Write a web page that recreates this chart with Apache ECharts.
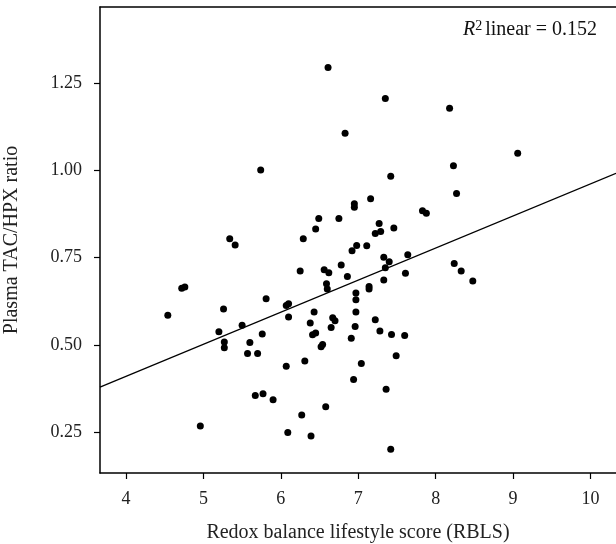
<!DOCTYPE html>
<html>
<head>
<meta charset="utf-8">
<script src="https://cdn.jsdelivr.net/npm/echarts@6/dist/echarts.min.js"></script>
<style>
  html, body { margin: 0; padding: 0; background: #fff; }
  #chart { width: 616px; height: 544px; }
</style>
</head>
<body>
<div id="chart"></div>
<script>
// RBLS score (x) and plasma TAC/HPX ratio (y)
const rbls = [
  6.61, 7.35, 8.18, 6.83, 9.06, 5.74, 8.23, 7.42,
  8.27, 7.16, 6.95, 6.95, 7.83, 7.88, 6.49, 6.75, 7.27, 6.45, 7.46, 7.29, 7.22,
  5.34, 6.29, 5.41, 6.98, 7.11, 6.92, 7.64, 7.33, 7.40, 8.24, 7.35, 6.78, 6.56,
  6.62, 6.25, 8.33, 6.86, 7.61, 7.33, 8.48, 6.59, 6.60, 7.14, 7.14, 4.72, 4.76,
  6.97, 6.97, 5.81, 5.26, 6.07, 6.10, 6.43, 6.97, 4.54, 6.10, 6.67, 6.70, 7.22,
  6.38, 5.50, 6.96, 6.65, 7.28, 5.20, 5.76, 6.41, 6.45, 7.43, 7.60, 6.91,
  5.27, 5.27, 5.60, 5.57, 5.70, 6.52, 6.54, 7.49, 6.31, 7.04, 6.07, 6.94, 7.36,
  5.67, 5.77, 5.90, 6.58, 6.27, 4.96, 6.09, 6.39, 7.42
];
const ratio = [
  1.295, 1.206, 1.178, 1.106, 1.049, 1.001, 1.013, 0.983,
  0.934, 0.919, 0.904, 0.894, 0.884, 0.877, 0.862, 0.862, 0.848, 0.832, 0.835, 0.825, 0.819,
  0.804, 0.804, 0.786, 0.785, 0.784, 0.770, 0.758, 0.751, 0.738, 0.733, 0.721, 0.729, 0.715,
  0.707, 0.712, 0.712, 0.696, 0.705, 0.686, 0.683, 0.675, 0.660, 0.667, 0.660, 0.662, 0.666,
  0.649, 0.629, 0.632, 0.603, 0.613, 0.618, 0.594, 0.594, 0.585, 0.580, 0.578, 0.569, 0.572,
  0.563, 0.556, 0.553, 0.550, 0.540, 0.538, 0.531, 0.529, 0.534, 0.530, 0.527, 0.519,
  0.508, 0.492, 0.507, 0.475, 0.475, 0.495, 0.501, 0.469, 0.454, 0.447, 0.439, 0.401, 0.373,
  0.355, 0.360, 0.343, 0.323, 0.299, 0.268, 0.249, 0.239, 0.201
];
const xTicks = [4, 5, 6, 7, 8, 9, 10];
const yTicks = [0.25, 0.50, 0.75, 1.00, 1.25];
// fitted line as drawn
const fitIntercept = 0.0423;
const fitSlope = 0.0919;
const xRange = [3.664, 10.33];
const yRange = [0.133, 1.468];

const points = rbls.map((x, i) => [x, ratio[i]]);
const fitLine = xRange.map(x => [x, fitIntercept + fitSlope * x]);

const font = '"Liberation Serif", "DejaVu Serif", serif';
const chart = echarts.init(document.getElementById('chart'), null, { renderer: 'canvas' });

chart.setOption({
  animation: false,
  backgroundColor: '#fff',
  textStyle: { fontFamily: font, color: '#222' },
  grid: { left: 100, right: 0, top: 7, bottom: 71, containLabel: false, outerBoundsMode: 'none' },
  xAxis: [{
    type: 'value',
    min: xRange[0],
    max: xRange[1],
    splitLine: { show: false },
    axisLine: { onZero: false, lineStyle: { color: '#000', width: 1.5 } },
    axisTick: {
      show: true, length: 6, lineStyle: { color: '#000', width: 1.2 },
      customValues: xTicks
    },
    axisLabel: {
      margin: 17, fontSize: 18, color: '#222', fontFamily: font,
      customValues: xTicks
    },
    name: 'Redox balance lifestyle score (RBLS)',
    nameLocation: 'middle',
    nameGap: 50,
    nameTextStyle: { fontSize: 20, color: '#222', fontFamily: font }
  }, {
    type: 'value',
    position: 'top',
    min: xRange[0],
    max: xRange[1],
    splitLine: { show: false },
    axisLine: { onZero: false, lineStyle: { color: '#000', width: 1.5 } },
    axisTick: { show: false },
    axisLabel: { show: false }
  }],
  yAxis: {
    type: 'value',
    min: yRange[0],
    max: yRange[1],
    splitLine: { show: false },
    axisLine: { onZero: false, lineStyle: { color: '#000', width: 1.5 } },
    axisTick: {
      show: true, length: 6, lineStyle: { color: '#000', width: 1.2 },
      customValues: yTicks
    },
    axisLabel: {
      margin: 18, fontSize: 18, color: '#222', fontFamily: font,
      customValues: yTicks,
      formatter: v => v.toFixed(2)
    },
    name: 'Plasma TAC/HPX ratio',
    nameLocation: 'middle',
    nameGap: 78,
    nameTextStyle: { fontSize: 20, color: '#222', fontFamily: font }
  },
  graphic: [{
    type: 'text',
    right: 19,
    top: 19,
    style: {
      rich: {
        it: { fontStyle: 'italic', fontSize: 20, fontFamily: font, fill: '#111' },
        sup: { fontSize: 14, fontFamily: font, fill: '#111', verticalAlign: 'top', padding: [0, 3, 8, 0] },
        n: { fontSize: 20, fontFamily: font, fill: '#111' }
      },
      text: '{it|R}{sup|2}{n|linear = 0.152}'
    }
  }],
  series: [{
    type: 'line',
    data: fitLine,
    symbol: 'none',
    lineStyle: { color: '#000', width: 1.3 },
    silent: true,
    z: 1
  }, {
    type: 'scatter',
    data: points,
    symbol: 'circle',
    symbolSize: 7,
    itemStyle: { color: '#000', opacity: 1 },
    z: 2
  }]
});
</script>
</body>
</html>
